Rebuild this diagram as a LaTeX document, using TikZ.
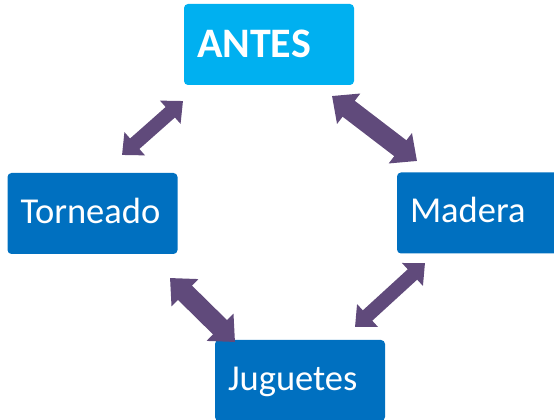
\documentclass[tikz,border=0pt]{standalone}
\usepackage{fontspec}
\setmainfont{Carlito}
\usepackage{tikz}
\usetikzlibrary{arrows.meta}
\definecolor{lightblue}{HTML}{00B0F0}
\definecolor{darkblue}{HTML}{0070C0}
\definecolor{arrowpurple}{HTML}{604A7B}

\begin{document}
\begin{tikzpicture}[x=1pt, y=1pt,
  box/.style={fill=darkblue, text=white, rounded corners=4pt, minimum height=81pt,
    text width=144pt, inner xsep=13pt, inner ysep=0pt, align=left,
    font=\fontsize{36.5}{44}\selectfont, text height=24.5pt, text depth=5pt},
  antesbox/.style={box, fill=lightblue, font=\fontsize{42}{50}\selectfont\bfseries,
    text height=32pt, text depth=5pt},
  thinarrow/.style={draw=arrowpurple, line width=14pt,
    {Triangle[width=30pt,length=17pt]}-{Triangle[width=30pt,length=17pt]}},
  thickarrow/.style={draw=arrowpurple, line width=20pt,
    {Triangle[width=37pt,length=21pt]}-{Triangle[width=37pt,length=21pt]}}]
\useasboundingbox (0,0) rectangle (554,420);

\node[antesbox] (antes) at (269,375.5) {ANTES};
\node[box] (torneado) at (92.5,206.5) {Torneado};
\node[box] (madera) at (482,207) {Madera};
\node[box] (juguetes) at (300,39.5) {Juguetes};

% arrow ends
\coordinate (a1) at (183,319);
\coordinate (b1) at (122,265);
\coordinate (a2) at (332,324);
\coordinate (b2) at (417,259);
\coordinate (a3) at (170,142);
\coordinate (b3) at (235,78);
\coordinate (a4) at (425,157);
\coordinate (b4) at (355,93);

% double arrows
\draw[thinarrow] (b1) -- (a1);
\draw[thickarrow] (a2) -- (b2);
\draw[thickarrow] (a3) -- (b3);
\draw[thinarrow] (a4) -- (b4);
\end{tikzpicture}
\end{document}
